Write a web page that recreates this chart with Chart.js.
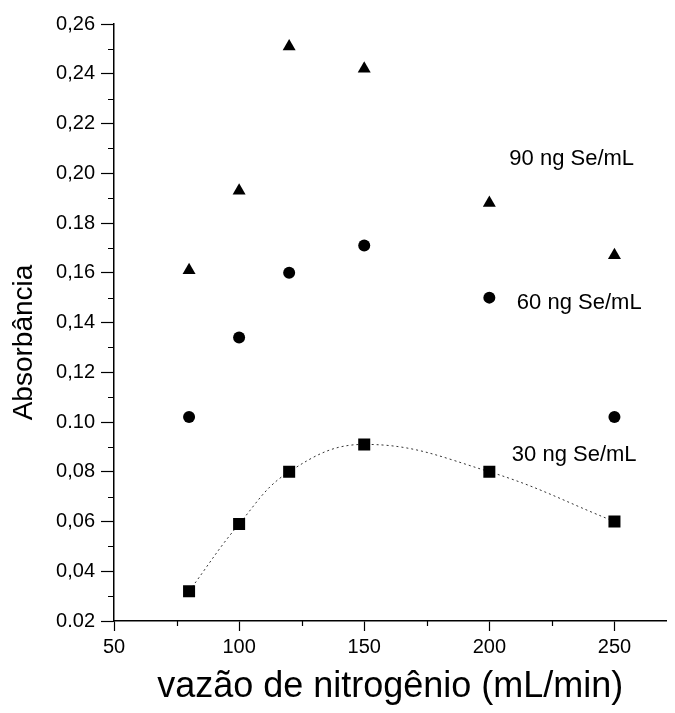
<!DOCTYPE html>
<html>
<head>
<meta charset="utf-8">
<script src="https://cdn.jsdelivr.net/npm/chart.js@4"></script>
<style>
  html, body { margin: 0; background: #fff; }
</style>
</head>
<body>
<canvas id="myCanvas" width="675" height="713"></canvas>
<script>
// nitrogen flow rate (mL/min) and absorbance for each Se standard
var flowRates = [80, 100, 120, 150, 200, 250];
var abs90 = [0.161, 0.193, 0.251, 0.242, 0.188, 0.167];
var abs60 = [0.102, 0.134, 0.160, 0.171, 0.150, 0.102];
var abs30 = [0.032, 0.059, 0.080, 0.091, 0.080, 0.060];
var seriesNames = ['90 ng Se/mL', '60 ng Se/mL', '30 ng Se/mL'];
var yTickLabels = ['0.02', '0,04', '0,06', '0,08', '0.10', '0,12', '0,14',
                   '0,16', '0.18', '0,20', '0,22', '0,24', '0,26'];
var xTitle = 'vazão de nitrogênio (mL/min)';
var yTitle = 'Absorbância';

function toPoints(ys) {
  return flowRates.map(function (x, i) { return { x: x, y: ys[i] }; });
}

var FONT = '"Liberation Sans", Arial, Helvetica, sans-serif';

// minor ticks, series captions and the rotated y title
var extras = {
  id: 'extras',
  afterDraw: function (chart) {
    var ctx = chart.ctx, xs = chart.scales.x, ys = chart.scales.y;
    var area = chart.chartArea;
    ctx.save();
    ctx.strokeStyle = '#000';
    ctx.lineWidth = 1.2;
    ctx.beginPath();
    for (var i = 0; i < 12; i++) {
      var py = Math.round(ys.getPixelForValue(0.03 + 0.02 * i)) + 0.5;
      ctx.moveTo(area.left - 6, py);
      ctx.lineTo(area.left, py);
    }
    [75, 125, 175, 225].forEach(function (v) {
      var px = Math.round(xs.getPixelForValue(v)) + 0.5;
      ctx.moveTo(px, area.bottom);
      ctx.lineTo(px, area.bottom + 5);
    });
    ctx.stroke();

    ctx.fillStyle = '#000';
    ctx.font = '22px ' + FONT;
    ctx.textAlign = 'left';
    ctx.textBaseline = 'middle';
    var spots = [[208, 0.2056], [211, 0.148], [209, 0.0868]];
    seriesNames.forEach(function (name, i) {
      ctx.fillText(name, xs.getPixelForValue(spots[i][0]), ys.getPixelForValue(spots[i][1]));
    });

    ctx.font = '28px ' + FONT;
    ctx.textAlign = 'center';
    ctx.translate(24, (area.top + area.bottom) / 2 + 20);
    ctx.rotate(-Math.PI / 2);
    ctx.fillText(yTitle, 0, 0);
    ctx.restore();
  }
};

var c = document.getElementById('myCanvas');
var ctx = c.getContext('2d');

const scatterChart = new Chart(ctx, {
  type: 'scatter',
  data: {
    datasets: [{
      label: seriesNames[0],
      data: toPoints(abs90),
      pointStyle: 'triangle',
      pointRadius: 7.5,
      backgroundColor: '#000',
      borderColor: '#000',
      borderWidth: 0
    }, {
      label: seriesNames[1],
      data: toPoints(abs60),
      pointStyle: 'circle',
      pointRadius: 6,
      backgroundColor: '#000',
      borderColor: '#000',
      borderWidth: 0
    }, {
      label: seriesNames[2],
      data: toPoints(abs30),
      showLine: true,
      tension: 0.4,
      borderColor: '#333',
      borderWidth: 1,
      borderDash: [2, 3],
      pointStyle: 'rect',
      pointRadius: 8.5,
      pointBackgroundColor: '#000',
      pointBorderColor: '#000',
      pointBorderWidth: 0
    }]
  },
  options: {
    responsive: false,
    animation: false,
    layout: { padding: { top: 24, right: 1, bottom: 0, left: 0 } },
    plugins: {
      legend: { display: false },
      tooltip: { enabled: false }
    },
    scales: {
      x: {
        type: 'linear',
        min: 50,
        max: 270.8,
        afterFit: function (s) {
          s.height = 92;
          s.paddingLeft = 0;
          s.paddingRight = 0;
        },
        ticks: {
          stepSize: 50,
          includeBounds: false,
          color: '#000',
          padding: 4,
          maxRotation: 0,
          font: { family: FONT, size: 20 }
        },
        grid: { drawOnChartArea: false, tickLength: 10, tickColor: '#000', tickWidth: 1.2 },
        border: { color: '#000', width: 1.5 },
        title: {
          display: true,
          text: xTitle,
          color: '#000',
          font: { family: FONT, size: 36 },
          padding: { top: 0, bottom: 4 }
        }
      },
      y: {
        min: 0.02,
        max: 0.26,
        afterFit: function (s) { s.width = 114; },
        ticks: {
          stepSize: 0.02,
          color: '#000',
          padding: 6,
          font: { family: FONT, size: 20 },
          callback: function (v) { return yTickLabels[Math.round((v - 0.02) / 0.02)]; }
        },
        grid: { drawOnChartArea: false, tickLength: 13, tickColor: '#000', tickWidth: 1.2 },
        border: { color: '#000', width: 1.5 }
      }
    }
  },
  plugins: [extras]
});
</script>
</body>
</html>
